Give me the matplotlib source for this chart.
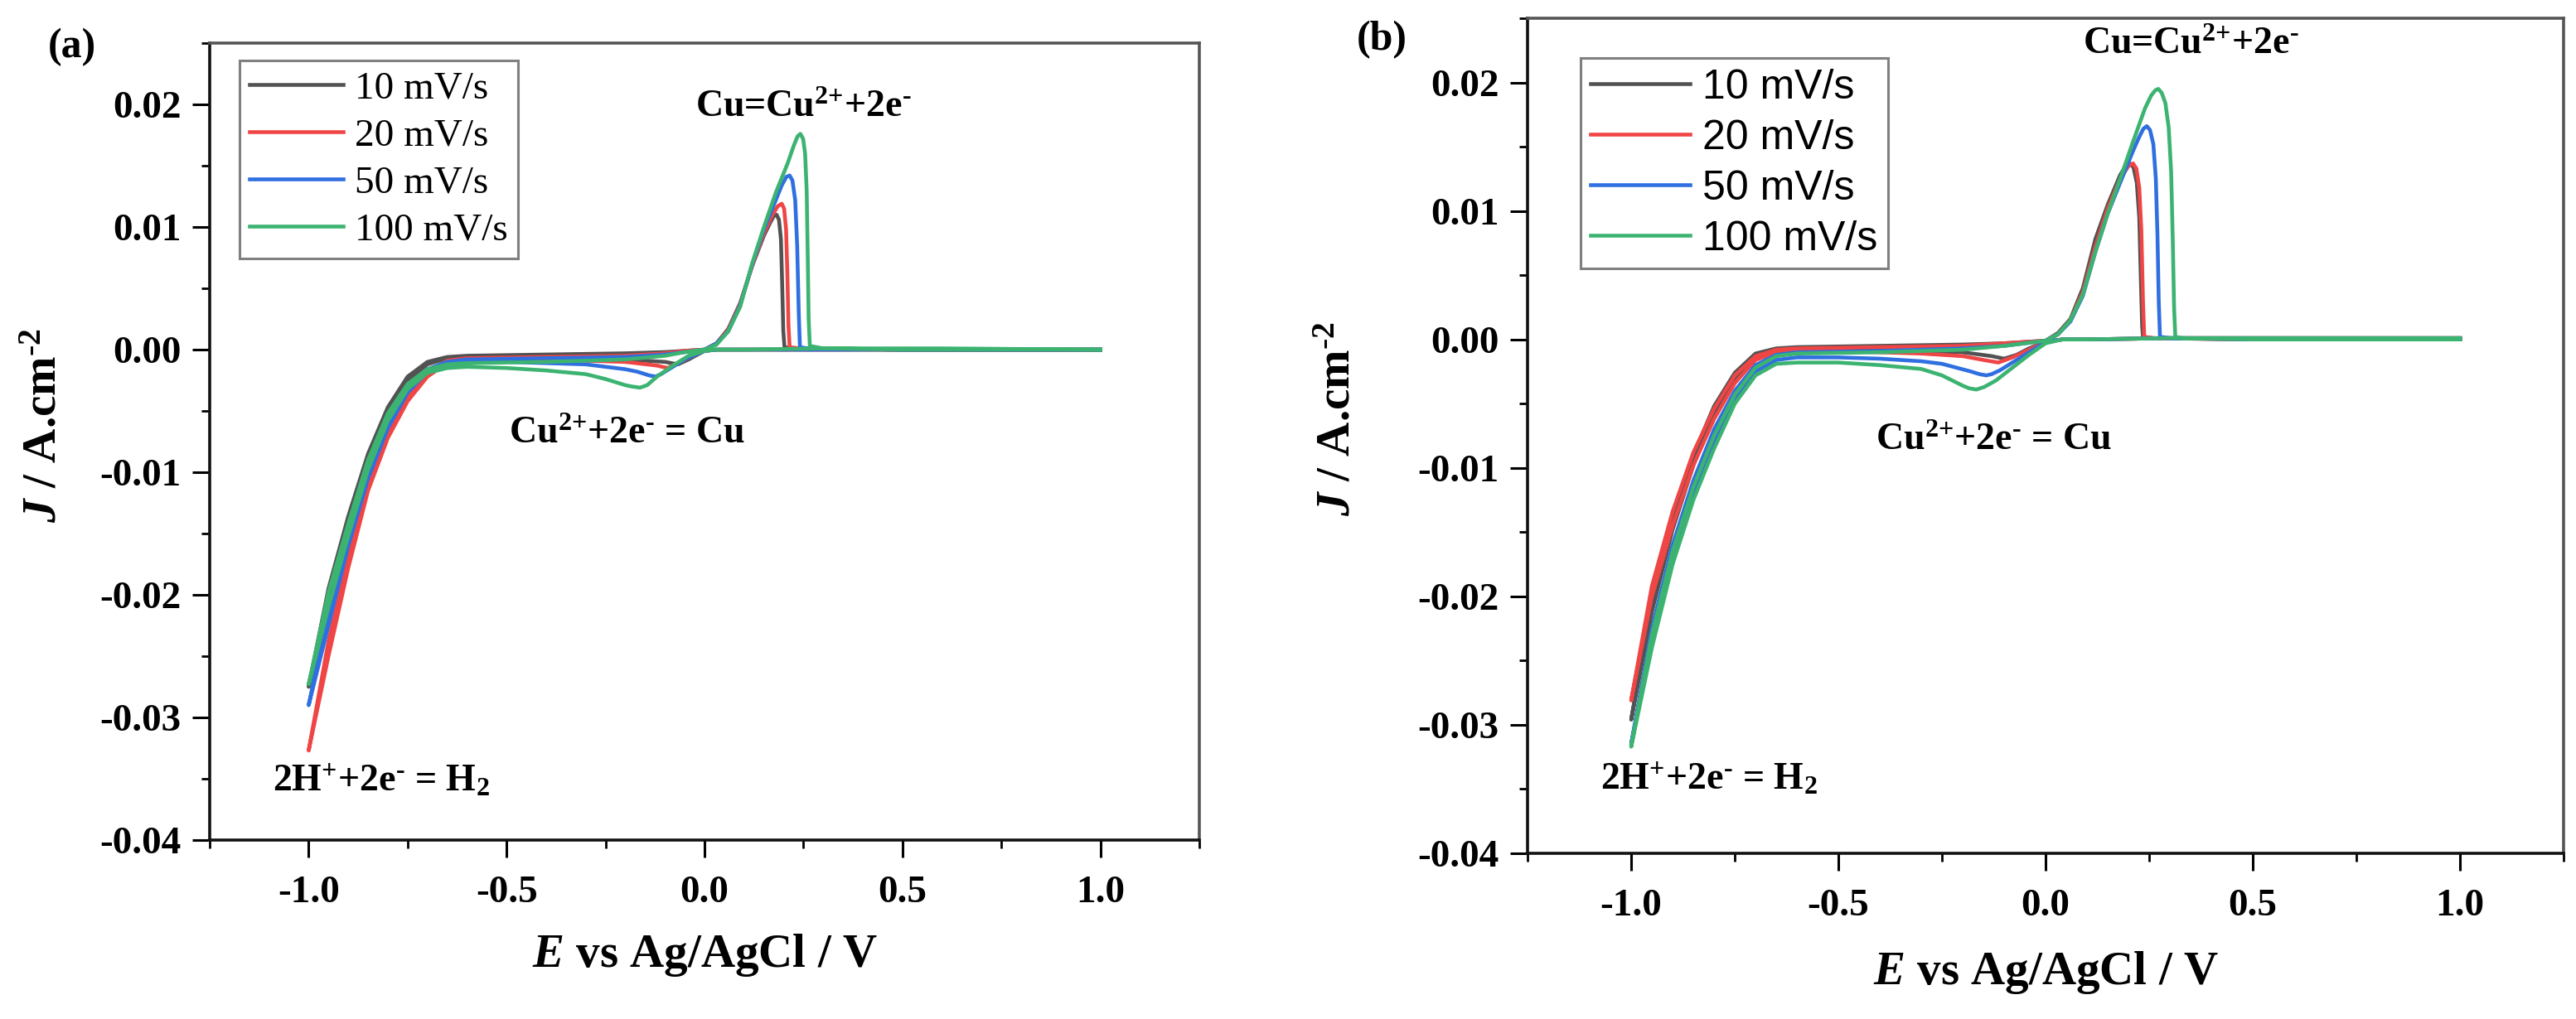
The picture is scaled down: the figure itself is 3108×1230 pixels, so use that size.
import matplotlib
matplotlib.use("Agg")
import matplotlib.pyplot as plt
from matplotlib.ticker import MultipleLocator

plt.rcParams['font.family'] = ['Liberation Serif', 'DejaVu Serif']
plt.rcParams['mathtext.fontset'] = 'custom'
plt.rcParams['mathtext.rm'] = 'Liberation Serif:bold'
plt.rcParams['mathtext.it'] = 'Liberation Serif:italic:bold'
plt.rcParams['mathtext.bf'] = 'Liberation Serif:bold'

labels = ['10 mV/s', '20 mV/s', '50 mV/s', '100 mV/s']
colors = ['#525252', '#f04545', '#2f6fe0', '#3cb371']

# ---- panel (a): potential (V) and current density (A/cm2), loop starting at 1.0 V ----
a10_E = [1.0, 0.6, 0.3, 0.1, 0.03, 0.0, -0.04, -0.067, -0.1, -0.2, -0.3, -0.4, -0.5, -0.6, -0.65, -0.7,
         -0.75, -0.8, -0.85, -0.9, -0.95, -1.0,
         -0.95, -0.9, -0.85, -0.8, -0.75, -0.7, -0.65, -0.6, -0.4, -0.2, -0.1, -0.05, 0.0, 0.03, 0.06,
         0.09, 0.12, 0.15, 0.165, 0.175, 0.182, 0.188, 0.193, 0.196, 0.199, 0.202, 0.22, 0.5, 1.0]
a10_J = [0.0, 0.0, 0.0, 0.0, 0.0, -0.0001, -0.0008, -0.0012, -0.0010, -0.0008, -0.0007, -0.0006, -0.0006,
         -0.0006, -0.0007, -0.0012, -0.0025, -0.0052, -0.0092, -0.0145, -0.0205, -0.0275,
         -0.0195, -0.0136, -0.0085, -0.0047, -0.0022, -0.0010, -0.0006, -0.0005, -0.0004, -0.0003,
         -0.0002, -0.0001, 0.0, 0.0005, 0.0017, 0.0038, 0.0068, 0.0093, 0.0103, 0.0109, 0.0110, 0.0106,
         0.0090, 0.0055, 0.0015, 0.0002, 0.0001, 0.0, 0.0]

a20_E = [1.0, 0.6, 0.3, 0.1, 0.03, 0.0, -0.03, -0.06, -0.094, -0.12, -0.2, -0.3, -0.4, -0.5, -0.6, -0.65,
         -0.7, -0.75, -0.8, -0.85, -0.9, -0.95, -1.0,
         -0.95, -0.9, -0.85, -0.8, -0.75, -0.7, -0.65, -0.6, -0.4, -0.2, -0.1, -0.05, 0.0, 0.03, 0.06,
         0.09, 0.12, 0.15, 0.17, 0.185, 0.195, 0.201, 0.206, 0.209, 0.212, 0.215, 0.24, 0.5, 1.0]
a20_J = [0.0, 0.0, 0.0, 0.0, 0.0, -0.0001, -0.0005, -0.0010, -0.0015, -0.0013, -0.0010, -0.0009, -0.0008,
         -0.0008, -0.0008, -0.0011, -0.0022, -0.0042, -0.0072, -0.0115, -0.0178, -0.0250, -0.0327,
         -0.0238, -0.0168, -0.0108, -0.0066, -0.0037, -0.0018, -0.0009, -0.0007, -0.0006, -0.0005,
         -0.0003, -0.0001, 0.0, 0.0005, 0.0016, 0.0037, 0.0068, 0.0095, 0.0109, 0.0117, 0.0119, 0.0115,
         0.0098, 0.0065, 0.0020, 0.0002, 0.0001, 0.0, 0.0]

a50_E = [1.0, 0.6, 0.3, 0.1, 0.03, 0.0, -0.05, -0.09, -0.11, -0.124, -0.14, -0.17, -0.2, -0.3, -0.4, -0.5,
         -0.6, -0.65, -0.7, -0.75, -0.8, -0.85, -0.9, -0.95, -1.0,
         -0.95, -0.9, -0.85, -0.8, -0.75, -0.7, -0.65, -0.6, -0.4, -0.2, -0.1, -0.05, 0.0, 0.03, 0.06,
         0.09, 0.12, 0.15, 0.18, 0.195, 0.207, 0.215, 0.222, 0.229, 0.234, 0.238, 0.241, 0.26, 0.5, 1.0]
a50_J = [0.0, 0.0, 0.0, 0.0, 0.0, -0.0001, -0.0008, -0.0016, -0.0020, -0.0022, -0.0021, -0.0018, -0.0016,
         -0.0012, -0.0011, -0.0010, -0.0010, -0.0012, -0.0018, -0.0035, -0.0064, -0.0105, -0.0160,
         -0.0225, -0.0290,
         -0.0212, -0.0150, -0.0098, -0.0058, -0.0031, -0.0016, -0.0010, -0.0008, -0.0007, -0.0006,
         -0.0004, -0.0002, 0.0, 0.0005, 0.0015, 0.0036, 0.0069, 0.0098, 0.0122, 0.0134, 0.0141, 0.0142,
         0.0138, 0.0122, 0.0085, 0.0030, 0.0002, 0.0001, 0.0, 0.0]

a100_E = [1.0, 0.6, 0.3, 0.1, 0.03, 0.0, -0.04, -0.08, -0.12, -0.145, -0.163, -0.185, -0.2, -0.25, -0.3,
          -0.4, -0.5, -0.6, -0.65, -0.7, -0.75, -0.8, -0.85, -0.9, -0.95, -1.0,
          -0.95, -0.9, -0.85, -0.8, -0.75, -0.7, -0.65, -0.6, -0.4, -0.2, -0.1, -0.05, 0.0, 0.03, 0.06,
          0.09, 0.12, 0.15, 0.18, 0.21, 0.225, 0.235, 0.242, 0.249, 0.254, 0.258, 0.261, 0.263, 0.266,
          0.3, 0.5, 1.0]
a100_J = [0.0, 0.0001, 0.0001, 0.0, 0.0, -0.0001, -0.0005, -0.0013, -0.0022, -0.0029, -0.0031, -0.0030,
          -0.0029, -0.0024, -0.0020, -0.0017, -0.0015, -0.0014, -0.0015, -0.0019, -0.0032, -0.0058,
          -0.0098, -0.0152, -0.0210, -0.0273,
          -0.0198, -0.0142, -0.0090, -0.0052, -0.0028, -0.0016, -0.0012, -0.0011, -0.0010, -0.0008,
          -0.0005, -0.0002, 0.0, 0.0004, 0.0015, 0.0035, 0.0070, 0.0100, 0.0128, 0.0152, 0.0166, 0.0174,
          0.0176, 0.0172, 0.0160, 0.0130, 0.0070, 0.0025, 0.0003, 0.0001, 0.0, 0.0]

# ---- panel (b) ----
b10_E = [1.0, 0.6, 0.3, 0.1, 0.04, 0.0, -0.04, -0.07, -0.10, -0.13, -0.2, -0.3, -0.4, -0.5, -0.6, -0.65,
         -0.7, -0.75, -0.8, -0.85, -0.9, -0.95, -1.0,
         -0.95, -0.9, -0.85, -0.8, -0.75, -0.7, -0.65, -0.6, -0.4, -0.2, -0.1, -0.05, 0.0, 0.03, 0.06,
         0.09, 0.12, 0.15, 0.18, 0.193, 0.203, 0.212, 0.22, 0.226, 0.230, 0.233, 0.235, 0.26, 0.5, 1.0]
b10_J = [0.0001, 0.0001, 0.0001, 0.0, 0.0, -0.0002, -0.0007, -0.0012, -0.0015, -0.0013, -0.0010, -0.0009,
         -0.0008, -0.0008, -0.0008, -0.0009, -0.0013, -0.0030, -0.0058, -0.0098, -0.0148, -0.0212,
         -0.0296,
         -0.0202, -0.0138, -0.0090, -0.0052, -0.0026, -0.0011, -0.0007, -0.0006, -0.0005, -0.0004,
         -0.0003, -0.0002, -0.0001, 0.0005, 0.0016, 0.0040, 0.0078, 0.0105, 0.0128, 0.0135, 0.0137,
         0.0134, 0.0122, 0.0095, 0.0045, 0.0010, 0.0002, 0.0001, 0.0, 0.0]

b20_E = [1.0, 0.6, 0.3, 0.1, 0.04, 0.0, -0.04, -0.08, -0.114, -0.15, -0.2, -0.3, -0.4, -0.5, -0.6, -0.65,
         -0.7, -0.75, -0.8, -0.85, -0.9, -0.95, -1.0,
         -0.95, -0.9, -0.85, -0.8, -0.75, -0.7, -0.65, -0.6, -0.4, -0.2, -0.1, -0.05, 0.0, 0.03, 0.06,
         0.09, 0.12, 0.15, 0.18, 0.2, 0.211, 0.219, 0.226, 0.231, 0.235, 0.238, 0.26, 0.5, 1.0]
b20_J = [0.0001, 0.0001, 0.0001, 0.0, 0.0, -0.0002, -0.0008, -0.0014, -0.0018, -0.0016, -0.0013, -0.0011,
         -0.0010, -0.0009, -0.0009, -0.0010, -0.0016, -0.0034, -0.0062, -0.0098, -0.0145, -0.0200,
         -0.0281,
         -0.0192, -0.0134, -0.0088, -0.0054, -0.0028, -0.0013, -0.0008, -0.0007, -0.0006, -0.0005,
         -0.0003, -0.0002, -0.0001, 0.0004, 0.0015, 0.0037, 0.0072, 0.0102, 0.0125, 0.0135, 0.0137,
         0.0133, 0.0118, 0.0085, 0.0030, 0.0002, 0.0001, 0.0, 0.0]

b50_E = [1.0, 0.6, 0.3, 0.1, 0.04, 0.0, -0.04, -0.08, -0.11, -0.13, -0.143, -0.16, -0.18, -0.25, -0.3,
         -0.4, -0.5, -0.6, -0.65, -0.7, -0.75, -0.8, -0.85, -0.9, -0.95, -1.0,
         -0.95, -0.9, -0.85, -0.8, -0.75, -0.7, -0.65, -0.6, -0.4, -0.2, -0.1, -0.05, 0.0, 0.03, 0.06,
         0.09, 0.12, 0.15, 0.18, 0.21, 0.225, 0.236, 0.244, 0.252, 0.26, 0.266, 0.270, 0.273, 0.276,
         0.3, 0.5, 1.0]
b50_J = [0.0001, 0.0001, 0.0001, 0.0, 0.0, -0.0002, -0.0010, -0.0018, -0.0024, -0.0027, -0.0028, -0.0027,
         -0.0025, -0.0019, -0.0017, -0.0015, -0.0014, -0.0014, -0.0016, -0.0025, -0.0047, -0.0080,
         -0.0120, -0.0170, -0.0235, -0.0315,
         -0.0225, -0.0160, -0.0110, -0.0070, -0.0040, -0.0020, -0.0012, -0.0010, -0.0009, -0.0007,
         -0.0005, -0.0003, -0.0001, 0.0004, 0.0014, 0.0034, 0.0068, 0.0098, 0.0122, 0.0146, 0.0157,
         0.0164, 0.0166, 0.0163, 0.0152, 0.0125, 0.0080, 0.0030, 0.0002, 0.0001, 0.0, 0.0]

b100_E = [1.0, 0.6, 0.3, 0.1, 0.04, 0.0, -0.04, -0.08, -0.12, -0.148, -0.167, -0.185, -0.2, -0.25, -0.3,
          -0.4, -0.5, -0.6, -0.65, -0.7, -0.75, -0.8, -0.85, -0.9, -0.95, -1.0,
          -0.95, -0.9, -0.85, -0.8, -0.75, -0.7, -0.65, -0.6, -0.4, -0.2, -0.1, -0.05, 0.0, 0.03, 0.06,
          0.09, 0.12, 0.15, 0.18, 0.21, 0.24, 0.255, 0.265, 0.272, 0.28, 0.289, 0.297, 0.303, 0.307,
          0.310, 0.313, 0.33, 0.5, 1.0]
b100_J = [0.0001, 0.0001, 0.0001, 0.0, 0.0, -0.0003, -0.0012, -0.0022, -0.0032, -0.0037, -0.0039, -0.0038,
          -0.0036, -0.0028, -0.0023, -0.0020, -0.0018, -0.0018, -0.0019, -0.0028, -0.0050, -0.0085,
          -0.0125, -0.0175, -0.0240, -0.0317,
          -0.0230, -0.0165, -0.0115, -0.0075, -0.0043, -0.0022, -0.0013, -0.0011, -0.0010, -0.0008,
          -0.0005, -0.0003, -0.0001, 0.0004, 0.0015, 0.0035, 0.0068, 0.0098, 0.0125, 0.0153, 0.0180,
          0.0190, 0.0194, 0.0195, 0.0192, 0.0184, 0.0165, 0.0130, 0.0075, 0.0025, 0.0002, 0.0001, 0.0,
          0.0]

panel_a = [(a10_E, a10_J), (a20_E, a20_J), (a50_E, a50_J), (a100_E, a100_J)]
panel_b = [(b10_E, b10_J), (b20_E, b20_J), (b50_E, b50_J), (b100_E, b100_J)]

fig = plt.figure(figsize=(31.08, 12.3), dpi=100)
ax1 = fig.add_axes([0.0814, 0.1756, 0.3842, 0.7821])
ax2 = fig.add_axes([0.5930, 0.1626, 0.4022, 0.8195])


def style_axes(ax, ylab_x):
    ax.set_xlim(-1.25, 1.25)
    ax.set_ylim(-0.04, 0.025)
    ax.xaxis.set_major_locator(MultipleLocator(0.5))
    ax.xaxis.set_minor_locator(MultipleLocator(0.25))
    ax.yaxis.set_major_locator(MultipleLocator(0.01))
    ax.yaxis.set_minor_locator(MultipleLocator(0.005))
    ax.tick_params(which='major', direction='out', length=15, width=2.2, pad=10,
                   top=False, right=False)
    ax.tick_params(which='minor', direction='out', length=7, width=2.0, top=False, right=False)
    ax.tick_params(axis='x', which='major', pad=16)
    ax.xaxis.set_major_formatter(plt.FuncFormatter(lambda v, p: '%.1f' % v))
    ax.yaxis.set_major_formatter(plt.FuncFormatter(lambda v, p: '%.2f' % v))
    for side in ['left', 'bottom']:
        ax.spines[side].set_linewidth(2.6)
        ax.spines[side].set_color('#111111')
    for side in ['top', 'right']:
        ax.spines[side].set_linewidth(2.6)
        ax.spines[side].set_color('#555555')
    ax.set_xlabel(r'$E$ vs Ag/AgCl / V', fontsize=41, fontweight='bold')
    ax.set_ylabel(r'$J$ / A.cm$^{\text{-2}}$', fontsize=41, fontweight='bold')
    ax.xaxis.set_label_coords(0.5, -0.115)
    ax.yaxis.set_label_coords(ylab_x, 0.52)


for ax, curves in [(ax1, panel_a), (ax2, panel_b)]:
    for (E, J), lab, c in zip(curves, labels, colors):
        ax.plot(E, J, color=c, lw=3.3, label=lab, solid_joinstyle='round')

style_axes(ax1, -0.145)
style_axes(ax2, -0.162)
for ax in (ax1, ax2):
    for lab in ax.get_xticklabels() + ax.get_yticklabels():
        lab.set_fontsize(34)
        lab.set_fontweight('bold')

leg1 = ax1.legend(loc='upper left', bbox_to_anchor=(0.030, 0.978), borderaxespad=0,
                  prop={'family': 'Liberation Serif', 'size': 34}, handlelength=2.4,
                  handletextpad=0.3, labelspacing=0.3, borderpad=0.25, fancybox=False,
                  framealpha=1)
leg1.get_frame().set_edgecolor('#808080')
leg1.get_frame().set_linewidth(2.2)

leg2 = ax2.legend(loc='upper left', bbox_to_anchor=(0.051, 0.952), borderaxespad=0,
                  prop={'family': 'Liberation Sans', 'size': 36}, handlelength=2.4,
                  handletextpad=0.3, labelspacing=0.3, borderpad=0.25, fancybox=False,
                  framealpha=1)
leg2.get_frame().set_edgecolor('#808080')
leg2.get_frame().set_linewidth(2.2)

ox = r'Cu=Cu$^{2{+}}$+2e$^{\text{-}}$'
red = r'Cu$^{2{+}}$+2e$^{\text{-}}$ = Cu'
hyd = r'2H$^{{+}}$+2e$^{\text{-}}$ = H$_{2}$'

txt = dict(fontsize=33, fontweight='bold')
ax1.text(0.25, 0.019, ox, ha='center', va='baseline', **txt)
ax1.text(-0.197, -0.0076, red, ha='center', va='baseline', **txt)
ax1.text(-1.09, -0.036, hyd, ha='left', va='baseline', **txt)

ax2.text(0.35, 0.0222, ox, ha='center', va='baseline', **txt)
ax2.text(-0.125, -0.0086, red, ha='center', va='baseline', **txt)
ax2.text(-1.074, -0.035, hyd, ha='left', va='baseline', **txt)

fig.text(0.028, 0.954, '(a)', fontsize=36, fontweight='bold', ha='center', va='center')
fig.text(0.5364, 0.961, '(b)', fontsize=36, fontweight='bold', ha='center', va='center')

fig.savefig('out.png', dpi=100)
